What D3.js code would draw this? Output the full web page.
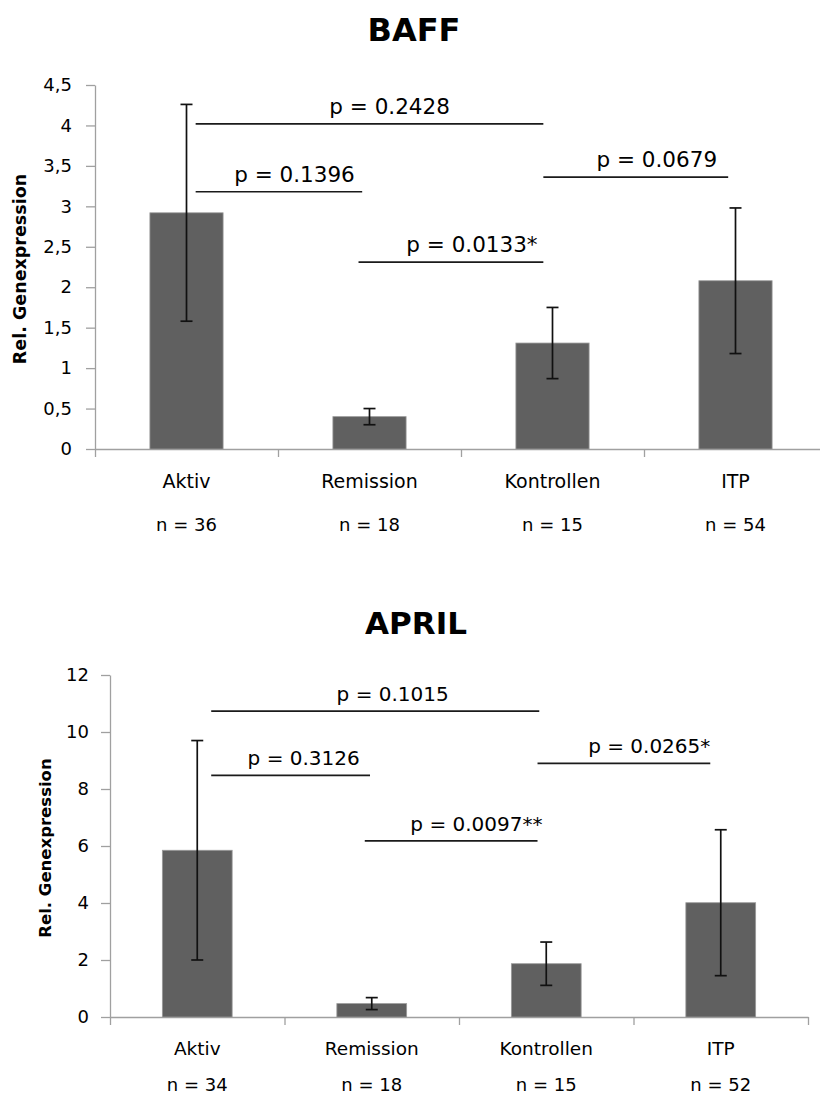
<!DOCTYPE html>
<html>
<head>
<meta charset="utf-8">
<script src="https://cdnjs.cloudflare.com/ajax/libs/d3/7.8.5/d3.min.js"></script>
<style>
  body { margin: 0; background: #fff; }
  svg { display: block; font-family: "DejaVu Sans", sans-serif; }
  .axis path, .axis line { stroke: #a0a0a0; stroke-width: 1.3; }
  .axis text { fill: #000; }
</style>
</head>
<body>
<div class="chart"></div>
<script>
var categories = ["Aktiv", "Remission", "Kontrollen", "ITP"];

var baffMeans = [2.92, 0.40, 1.31, 2.08];
var baffErrors = [1.34, 0.10, 0.44, 0.90];
var baffN = [36, 18, 15, 54];
var baffTicks = [0, 0.5, 1, 1.5, 2, 2.5, 3, 3.5, 4, 4.5];
var baffBrackets = [
  { from: 0.05, to: 1.95, level: 4.02, label: "p = 0.2428", at: 1.11 },
  { from: 0.05, to: 0.96, level: 3.18, label: "p = 0.1396", at: 0.59 },
  { from: 0.94, to: 1.95, level: 2.31, label: "p = 0.0133*", at: 1.56 },
  { from: 1.95, to: 2.96, level: 3.36, label: "p = 0.0679", at: 2.57 }
];

var aprilMeans = [5.85, 0.47, 1.87, 4.01];
var aprilErrors = [3.85, 0.21, 0.76, 2.56];
var aprilN = [34, 18, 15, 52];
var aprilTicks = [0, 2, 4, 6, 8, 10, 12];
var aprilBrackets = [
  { from: 0.08, to: 1.96, level: 10.73, label: "p = 0.1015", at: 1.12 },
  { from: 0.08, to: 0.99, level: 8.48, label: "p = 0.3126", at: 0.61 },
  { from: 0.96, to: 1.95, level: 6.18, label: "p = 0.0097**", at: 1.60 },
  { from: 1.95, to: 2.94, level: 8.90, label: "p = 0.0265*", at: 2.59 }
];

var svgWidth = 820;
var svgHeight = 1097;

var svg = d3.select(".chart")
  .append("svg")
  .attr("width", svgWidth)
  .attr("height", svgHeight);

function drawChart(c) {
  var g = svg.append("g");

  var y = d3.scaleLinear()
    .domain([0, c.ticks[c.ticks.length - 1]])
    .range([c.bottom, c.top]);

  var x = d3.scaleBand()
    .domain(categories)
    .range([c.left, c.right])
    .paddingInner(0.6)
    .paddingOuter(0.3);

  // category index -> pixel, centers at 0..3
  var xi = d3.scaleLinear()
    .domain([-0.5, categories.length - 0.5])
    .range([c.left, c.right]);

  var rows = categories.map(function(name, i) {
    return { name: name, mean: c.means[i], err: c.errors[i], n: c.n[i] };
  });

  g.append("text")
    .attr("x", c.titleX)
    .attr("y", c.titleY)
    .attr("text-anchor", "middle")
    .attr("font-size", c.titleSize)
    .attr("font-weight", "bold")
    .text(c.title);

  g.append("g")
    .attr("class", "axis")
    .attr("transform", `translate(${c.left}, 0)`)
    .call(d3.axisLeft(y)
      .tickValues(c.ticks)
      .tickSize(9)
      .tickSizeOuter(0)
      .tickPadding(c.tickPad)
      .tickFormat(d => String(d).replace(".", ",")))
    .selectAll("text")
    .attr("font-size", 18)
    .attr("font-family", "DejaVu Sans");

  g.append("g")
    .attr("class", "axis")
    .attr("transform", `translate(0, ${c.bottom})`)
    .call(d3.axisBottom(xi)
      .tickValues(d3.range(categories.length + 1).map(d => d - 0.5))
      .tickSize(8)
      .tickSizeOuter(0)
      .tickFormat(""));

  g.selectAll("rect.bar")
    .data(rows)
    .enter()
    .append("rect")
    .attr("class", "bar")
    .attr("x", d => x(d.name))
    .attr("width", x.bandwidth())
    .attr("y", d => y(d.mean))
    .attr("height", d => c.bottom - y(d.mean))
    .attr("fill", "#606060")
    .attr("stroke", "#9a9a9a")
    .attr("stroke-width", 0.8);

  var eb = g.selectAll("g.err")
    .data(rows)
    .enter()
    .append("g")
    .attr("class", "err")
    .attr("stroke", "#111")
    .attr("stroke-width", 1.7);

  eb.append("line")
    .attr("x1", d => x(d.name) + x.bandwidth() / 2)
    .attr("x2", d => x(d.name) + x.bandwidth() / 2)
    .attr("y1", d => y(d.mean + d.err))
    .attr("y2", d => y(d.mean - d.err));

  [1, -1].forEach(function(s) {
    eb.append("line")
      .attr("x1", d => x(d.name) + x.bandwidth() / 2 - 6)
      .attr("x2", d => x(d.name) + x.bandwidth() / 2 + 6)
      .attr("y1", d => y(d.mean + s * d.err))
      .attr("y2", d => y(d.mean + s * d.err));
  });

  g.selectAll("line.bracket")
    .data(c.brackets)
    .enter()
    .append("line")
    .attr("class", "bracket")
    .attr("x1", d => xi(d.from))
    .attr("x2", d => xi(d.to))
    .attr("y1", d => y(d.level))
    .attr("y2", d => y(d.level))
    .attr("stroke", "#1a1a1a")
    .attr("stroke-width", 1.7);

  g.selectAll("text.pval")
    .data(c.brackets)
    .enter()
    .append("text")
    .attr("class", "pval")
    .attr("x", d => xi(d.at))
    .attr("y", d => y(d.level) - 10)
    .attr("text-anchor", "middle")
    .attr("font-size", c.pSize)
    .text(d => d.label);

  g.selectAll("text.cat")
    .data(rows)
    .enter()
    .append("text")
    .attr("class", "cat")
    .attr("x", d => x(d.name) + x.bandwidth() / 2)
    .attr("y", c.catY)
    .attr("text-anchor", "middle")
    .attr("font-size", c.catSize)
    .text(d => d.name);

  g.selectAll("text.n")
    .data(rows)
    .enter()
    .append("text")
    .attr("class", "n")
    .attr("x", d => x(d.name) + x.bandwidth() / 2)
    .attr("y", c.nY)
    .attr("text-anchor", "middle")
    .attr("font-size", 18)
    .text(d => "n = " + d.n);

  g.append("text")
    .attr("transform", `translate(${c.labelX}, ${(c.top + c.bottom) / 2 + 2}) rotate(-90)`)
    .attr("text-anchor", "middle")
    .attr("font-size", c.labelSize)
    .attr("font-weight", "bold")
    .text("Rel. Genexpression");
}

drawChart({
  title: "BAFF", titleX: 414, titleY: 41, titleSize: 32,
  means: baffMeans, errors: baffErrors, n: baffN, ticks: baffTicks, brackets: baffBrackets,
  left: 95, right: 827, top: 85, bottom: 449, tickPad: 14,
  pSize: 21.5, catSize: 19, catY: 488, nY: 531, labelX: 26, labelSize: 17.5
});

drawChart({
  title: "APRIL", titleX: 416, titleY: 634, titleSize: 31,
  means: aprilMeans, errors: aprilErrors, n: aprilN, ticks: aprilTicks, brackets: aprilBrackets,
  left: 110, right: 808, top: 675, bottom: 1017, tickPad: 12,
  pSize: 20, catSize: 18.5, catY: 1055, nY: 1091, labelX: 51, labelSize: 16.5
});
</script>
</body>
</html>
